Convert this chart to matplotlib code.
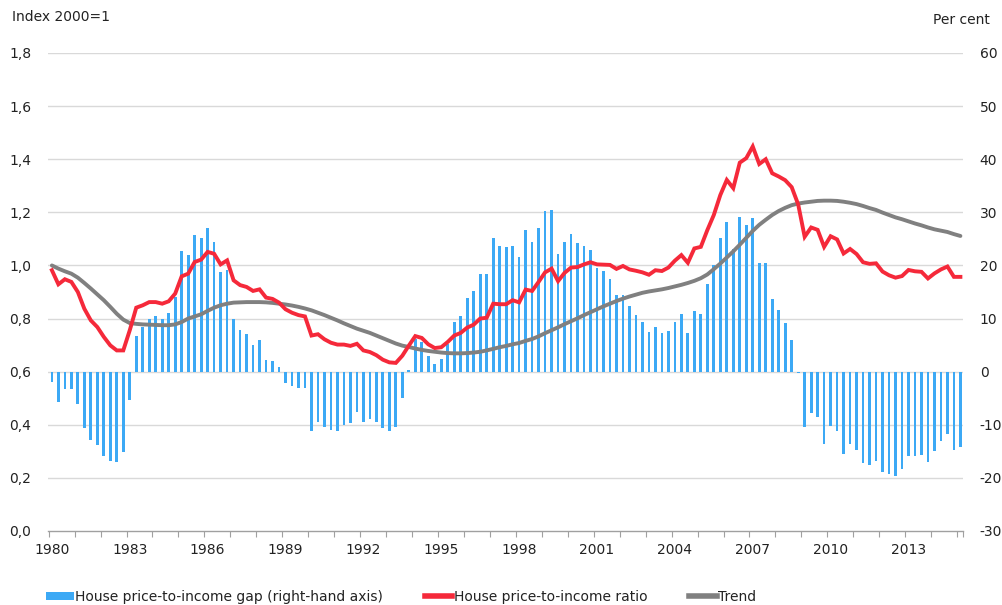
import matplotlib
matplotlib.use("Agg")
import matplotlib.pyplot as plt
from matplotlib.patches import Patch
from matplotlib.lines import Line2D
import numpy as np
import pandas as pd

# quarterly data, 1980Q1 - 2015Q1
quarters = pd.period_range("1980Q1", "2015Q1", freq="Q")

gap = [-1.9, -5.7, -3.3, -3.2, -6.0, -10.6, -12.9, -13.9, -15.8, -16.8,
       -17.0, -15.1, -5.4, 6.7, 8.4, 10.0, 10.5, 10.0, 11.0, 14.1,
       22.7, 21.9, 25.7, 25.2, 27.1, 24.5, 18.8, 19.1, 9.9, 7.8,
       7.0, 5.0, 5.9, 2.2, 2.1, 0.8, -2.1, -2.7, -3.1, -3.0,
       -11.2, -9.5, -10.4, -10.9, -11.1, -10.0, -9.6, -7.6, -9.5, -9.0,
       -9.5, -10.7, -11.2, -10.4, -5.0, 0.4, 6.1, 5.5, 2.9, 1.5,
       2.4, 5.3, 9.4, 10.5, 13.9, 15.1, 18.3, 18.3, 25.2, 23.6,
       23.4, 23.6, 21.5, 26.6, 24.5, 27.1, 30.3, 30.5, 22.2, 24.5,
       26.0, 24.2, 23.6, 23.0, 19.6, 18.9, 17.4, 14.5, 14.5, 12.3,
       10.7, 9.3, 7.4, 8.4, 7.2, 7.7, 9.4, 10.9, 7.2, 11.4,
       10.9, 16.5, 20.0, 25.1, 28.1, 23.1, 29.2, 27.7, 28.9, 20.5,
       20.4, 13.6, 11.6, 9.1, 6.0, -0.2, -10.4, -7.7, -8.5, -13.7,
       -10.2, -11.1, -15.5, -13.7, -14.7, -17.2, -17.5, -16.8, -18.9, -19.3,
       -19.6, -18.4, -15.9, -15.9, -15.7, -17.0, -15.0, -13.1, -11.8, -14.8,
       -14.1]

ratio = [0.982, 0.929, 0.948, 0.938, 0.900, 0.837, 0.793, 0.768, 0.731, 0.699,
         0.680, 0.680, 0.756, 0.841, 0.850, 0.862, 0.862, 0.856, 0.865, 0.894,
         0.959, 0.969, 1.013, 1.022, 1.051, 1.044, 1.004, 1.019, 0.944, 0.926,
         0.919, 0.904, 0.910, 0.879, 0.874, 0.860, 0.835, 0.822, 0.813, 0.808,
         0.736, 0.741, 0.722, 0.709, 0.702, 0.702, 0.697, 0.705, 0.680, 0.674,
         0.662, 0.645, 0.635, 0.633, 0.660, 0.698, 0.734, 0.727, 0.703, 0.689,
         0.692, 0.712, 0.736, 0.746, 0.766, 0.777, 0.800, 0.803, 0.856, 0.854,
         0.854, 0.869, 0.861, 0.909, 0.904, 0.938, 0.974, 0.988, 0.941, 0.972,
         0.992, 0.994, 1.004, 1.012, 1.004, 1.003, 1.002, 0.987, 0.998, 0.985,
         0.980, 0.974, 0.965, 0.982, 0.979, 0.992, 1.018, 1.039, 1.010, 1.064,
         1.070, 1.133, 1.190, 1.265, 1.322, 1.291, 1.387, 1.404, 1.448, 1.382,
         1.400, 1.347, 1.335, 1.321, 1.295, 1.230, 1.108, 1.143, 1.134, 1.070,
         1.110, 1.098, 1.045, 1.062, 1.043, 1.012, 1.006, 1.008, 0.977, 0.963,
         0.954, 0.960, 0.983, 0.978, 0.976, 0.951, 0.970, 0.985, 0.996, 0.957,
         0.957]

trend = [1.000, 0.988, 0.978, 0.969, 0.954, 0.934, 0.913, 0.891, 0.869, 0.844,
         0.818, 0.796, 0.783, 0.780, 0.778, 0.777, 0.776, 0.775, 0.775, 0.778,
         0.787, 0.800, 0.808, 0.816, 0.829, 0.841, 0.850, 0.856, 0.860, 0.861,
         0.862, 0.862, 0.862, 0.861, 0.859, 0.856, 0.853, 0.849, 0.844, 0.838,
         0.831, 0.822, 0.813, 0.803, 0.793, 0.782, 0.772, 0.762, 0.754, 0.746,
         0.736, 0.726, 0.716, 0.706, 0.698, 0.693, 0.687, 0.682, 0.678, 0.675,
         0.672, 0.670, 0.669, 0.669, 0.670, 0.672, 0.675, 0.680, 0.686, 0.692,
         0.697, 0.703, 0.708, 0.716, 0.723, 0.733, 0.745, 0.756, 0.767, 0.779,
         0.790, 0.801, 0.813, 0.824, 0.835, 0.846, 0.856, 0.866, 0.875, 0.883,
         0.890, 0.897, 0.902, 0.906, 0.910, 0.915, 0.921, 0.927, 0.934, 0.942,
         0.952, 0.966, 0.986, 1.007, 1.030, 1.053, 1.078, 1.104, 1.130, 1.153,
         1.172, 1.190, 1.205, 1.217, 1.227, 1.233, 1.237, 1.240, 1.243, 1.244,
         1.244, 1.243, 1.240, 1.236, 1.231, 1.224, 1.216, 1.209, 1.199, 1.190,
         1.181, 1.174, 1.166, 1.158, 1.151, 1.143, 1.136, 1.131, 1.126, 1.118,
         1.111]

year_labels = ["1980", "1983", "1986", "1989", "1992", "1995", "1998",
               "2001", "2004", "2007", "2010", "2013"]
left_ticks = [0.0, 0.2, 0.4, 0.6, 0.8, 1.0, 1.2, 1.4, 1.6, 1.8]
right_ticks = [-30, -20, -10, 0, 10, 20, 30, 40, 50, 60]

blue = "#3CA9F5"
red = "#F5293A"
grey = "#808080"
txt = "#222222"
fs = 10

plt.rcParams["font.family"] = ["DejaVu Sans"]

fig = plt.figure(figsize=(10.03, 6.05), dpi=100)
ax = fig.add_axes([48 / 1003, 1 - 531 / 605, (963 - 48) / 1003, (531 - 53) / 605])
ax2 = ax.twinx()

x = np.arange(len(quarters))

ax2.bar(x, gap, width=0.42, color=blue, zorder=2)
ax.plot(x, trend, color=grey, lw=2.8, solid_capstyle="round", zorder=3)
ax.plot(x, ratio, color=red, lw=2.8, solid_joinstyle="miter", zorder=4)

ax.set_zorder(ax2.get_zorder() + 1)
ax.patch.set_visible(False)

ax.set_ylim(0, 1.8)
ax2.set_ylim(-30, 60)
ax.set_xlim(-0.6, len(quarters) - 0.6)

ax.set_yticks(left_ticks)
ax.set_yticklabels([f"{v:.1f}".replace(".", ",") for v in left_ticks])
ax2.set_yticks(right_ticks)
ax2.set_yticklabels([str(v) for v in right_ticks])

for v in right_ticks[1:]:
    ax2.axhline(v, color="#d9d9d9", lw=1.0, zorder=1)

# x axis: year boundaries as minor ticks, labels every third year
year_pos = [i for i, q in enumerate(quarters) if q.quarter == 1]
ax.set_xticks([p - 0.5 for p in year_pos] + [len(quarters) - 0.6], minor=True)
lab_pos = [i for i, q in enumerate(quarters) if q.quarter == 1 and str(q.year) in year_labels]
ax.set_xticks(lab_pos)
ax.set_xticklabels(year_labels)
ax.tick_params(axis="x", which="major", length=0, pad=9, labelsize=fs, colors=txt)
ax.tick_params(axis="x", which="minor", length=4, width=0.8, color="#a0a0a0")
ax.tick_params(axis="y", length=0, pad=12, labelsize=fs, colors=txt)
ax2.tick_params(axis="y", length=0, pad=12, labelsize=fs, colors=txt)
ax2.tick_params(axis="x", length=0)

for a in (ax, ax2):
    for s in ("top", "left", "right", "bottom"):
        a.spines[s].set_visible(False)
ax.spines["bottom"].set_visible(True)
ax.spines["bottom"].set_color("#a0a0a0")
ax.spines["bottom"].set_linewidth(1.0)

fig.text(12 / 1003, 1 - 17 / 605, "Index 2000=1", fontsize=fs, color=txt,
         ha="left", va="center")
fig.text(990 / 1003, 1 - 20 / 605, "Per cent", fontsize=fs, color=txt,
         ha="right", va="center")

handles = [Patch(facecolor=blue, edgecolor="none"),
           Line2D([], [], color=red, lw=4),
           Line2D([], [], color=grey, lw=4)]
labels = ["House price-to-income gap (right-hand axis)",
          "House price-to-income ratio", "Trend"]
fig.legend(handles, labels, loc="center left", ncol=3,
           bbox_to_anchor=(46 / 1003, 1 - 597 / 605), frameon=False,
           fontsize=fs, handlelength=2.0, handleheight=0.55,
           handletextpad=0.1, columnspacing=3.0, borderpad=0,
           borderaxespad=0, labelcolor=txt)

fig.savefig("out.png", dpi=100)
